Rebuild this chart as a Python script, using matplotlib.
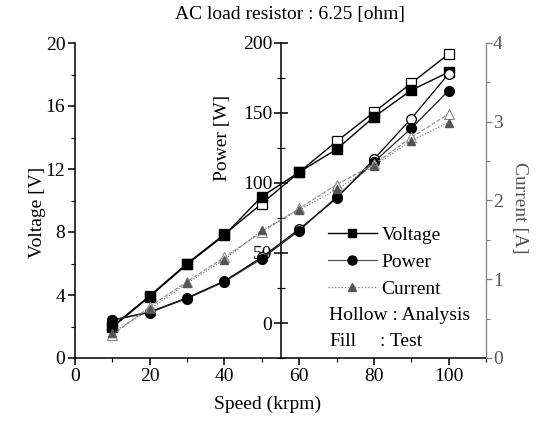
import matplotlib
matplotlib.use("Agg")
import matplotlib.pyplot as plt
from matplotlib.lines import Line2D
from matplotlib.ticker import MultipleLocator

plt.rcParams['font.family'] = ['Liberation Serif', 'DejaVu Serif']
plt.rcParams['font.size'] = 13

# Speed sweep (krpm)
speed = [10, 20, 30, 40, 50, 60, 70, 80, 90, 100]

# Hollow = analysis, fill = test
voltage_analysis = [2.0, 3.95, 6.0, 7.85, 9.8, 11.8, 13.75, 15.6, 17.45, 19.3]
voltage_test = [1.95, 3.9, 5.95, 7.8, 10.25, 11.8, 13.25, 15.3, 17.0, 18.15]
power_analysis = [2.1, 7.9, 18.0, 30.0, 47.0, 67.0, 89.0, 117.0, 146.0, 178.0]
power_test = [2.0, 7.5, 17.5, 29.5, 46.0, 66.0, 90.0, 115.0, 139.0, 166.0]
current_analysis = [0.29, 0.65, 0.97, 1.28, 1.60, 1.90, 2.20, 2.46, 2.80, 3.10]
current_test = [0.32, 0.62, 0.95, 1.25, 1.62, 1.88, 2.14, 2.44, 2.76, 2.99]

W, H = 546, 422
fig = plt.figure(figsize=(W / 100, H / 100), dpi=100)
left, right, top, bottom = 75, 486, 43, 358
ax = fig.add_axes([left / W, 1 - bottom / H, (right - left) / W, (bottom - top) / H])

ax_p = ax.twinx()
ax_c = ax.twinx()

FS = 14


def fx(px):
    return (px - left) / (right - left)


def fy(py):
    return (bottom - py) / (bottom - top)


# --- voltage (left axis)
ax.plot(speed, voltage_analysis, color='black', lw=1.0, marker='s', ms=6.5,
        mfc='white', mec='black', mew=0.9, zorder=3)
ax.plot(speed, voltage_test, color='black', lw=1.0, marker='s', ms=6.5,
        mfc='black', mec='black', zorder=3)
ax.set_xlim(0, 110)
ax.set_ylim(0, 20)
ax.xaxis.set_major_locator(MultipleLocator(20))
ax.xaxis.set_minor_locator(MultipleLocator(10))
ax.yaxis.set_major_locator(MultipleLocator(4))
ax.yaxis.set_minor_locator(MultipleLocator(2))
ax.tick_params(which='major', direction='out', length=5, width=1.1, labelsize=FS, pad=2)
ax.tick_params(which='minor', direction='out', length=3, width=0.8)
for s in ['left', 'bottom']:
    ax.spines[s].set_linewidth(1.1)
ax.spines['top'].set_visible(False)
ax.spines['right'].set_visible(False)
ax.set_xlabel('Speed (krpm)', fontsize=FS)
ax.xaxis.set_label_coords(fx(268), fy(396))
ax.set_ylabel('Voltage [V]', fontsize=FS)
ax.yaxis.set_label_coords(fx(46), fy(212))

# --- power (middle axis at 55 krpm)
ax_p.plot(speed, power_analysis, color='black', lw=0.9, marker='o', ms=7,
          mfc='white', mec='black', mew=0.9, zorder=3)
ax_p.plot(speed, power_test, color='#222222', lw=0.9, marker='o', ms=7,
          mfc='black', mec='black', zorder=3)
ax_p.set_ylim(-25, 200)
for s in ['top', 'right', 'bottom']:
    ax_p.spines[s].set_visible(False)
ax_p.spines['left'].set_visible(True)
ax_p.spines['left'].set_linewidth(1.1)
ax_p.spines['left'].set_position(('data', 55))
ax_p.spines['left'].set_bounds(-25, 200)
ax_p.yaxis.set_ticks_position('left')
ax_p.yaxis.set_label_position('left')
ax_p.yaxis.set_major_locator(MultipleLocator(50))
ax_p.yaxis.set_minor_locator(MultipleLocator(25))
ax_p.set_yticks([0, 50, 100, 150, 200])
ax_p.tick_params(which='major', direction='inout', length=10, width=1.1, labelsize=FS, pad=1)
ax_p.tick_params(which='minor', direction='inout', length=6, width=0.8)
ax_p.set_ylabel('Power [W]', fontsize=FS)
ax_p.yaxis.set_label_coords(fx(231), fy(138))

# --- current (right axis)
ax_c.plot(speed, current_analysis, color='#8a8a8a', lw=0.8, ls='--', marker='^', ms=7,
          mfc='white', mec='#8a8a8a', mew=0.8, zorder=3)
ax_c.plot(speed, current_test, color='#666666', lw=0.8, ls=':', marker='^', ms=6,
          mfc='#555555', mec='#555555', zorder=3)
ax_c.set_ylim(0, 4)
for s in ['top', 'left', 'bottom']:
    ax_c.spines[s].set_visible(False)
ax_c.spines['right'].set_color('#808080')
ax_c.spines['right'].set_linewidth(0.9)
ax_c.yaxis.set_major_locator(MultipleLocator(1))
ax_c.yaxis.set_minor_locator(MultipleLocator(0.5))
ax_c.tick_params(which='major', direction='out', length=4, width=0.9, colors='#808080',
                 labelcolor='#555555', labelsize=FS, pad=1)
ax_c.tick_params(which='minor', direction='out', length=3, width=0.8, colors='#808080')
ax_c.set_ylabel('Current [A]', fontsize=FS, color='#555555', rotation=270)
ax_c.yaxis.set_label_coords(fx(528), fy(208))

# --- legend
handles = [
    Line2D([], [], color='black', lw=1.0, marker='s', ms=6, mfc='black', mec='black'),
    Line2D([], [], color='#555555', lw=0.9, marker='o', ms=6.5, mfc='black', mec='black'),
    Line2D([], [], color='#777777', lw=0.9, ls=':', marker='^', ms=6, mfc='#555555', mec='#555555'),
]
leg = ax.legend(handles, ['Voltage', 'Power', 'Current'], loc='upper left',
                bbox_to_anchor=(328 / W, 1 - 226 / H), bbox_transform=fig.transFigure,
                frameon=False, fontsize=FS, handlelength=2.5, handletextpad=0.25,
                labelspacing=0.5, borderpad=0, borderaxespad=0)
fig.text(329 / W, 1 - 315 / H, 'Hollow : Analysis', fontsize=FS, va='center', ha='left')
fig.text(329 / W, 1 - 341 / H, 'Fill', fontsize=FS, va='center', ha='left')
fig.text(380 / W, 1 - 341 / H, ': Test', fontsize=FS, va='center', ha='left')

fig.text(290 / W, 1 - 15 / H, 'AC load resistor : 6.25 [ohm]', fontsize=FS,
         ha='center', va='center')

fig.savefig('out.png', dpi=100)
